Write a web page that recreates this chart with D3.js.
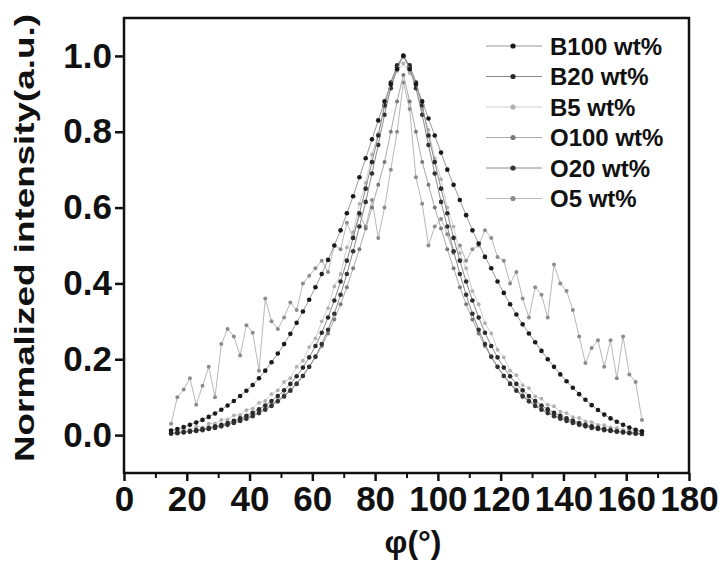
<!DOCTYPE html>
<html><head><meta charset="utf-8">
<script src="https://cdn.jsdelivr.net/npm/d3@7"></script>
<style>
body{margin:0;background:#fff;}
svg text{font-family:"Liberation Sans",Arial,sans-serif;font-weight:bold;fill:#111;}
</style></head>
<body><svg id="c" width="725" height="577"></svg>
<script>
// angle grid (degrees)
const phi = d3.range(15, 166, 2);
const seriesNames = ["B100 wt%","B20 wt%","B5 wt%","O100 wt%","O20 wt%","O5 wt%"];
const B100 = [0.012,0.016,0.021,0.027,0.033,0.040,0.048,0.057,0.067,0.078,0.090,0.103,0.117,0.132,0.150,0.170,0.192,0.215,0.240,0.267,0.296,0.326,0.357,0.390,0.425,0.462,0.50,0.54,0.585,0.63,0.68,0.73,0.78,0.83,0.88,0.925,0.965,
 1.00,
 0.965,0.925,0.88,0.835,0.79,0.745,0.70,0.66,0.62,0.58,0.54,0.505,0.47,0.44,0.405,0.375,0.345,0.318,0.292,0.268,0.245,0.222,0.200,0.180,0.160,0.142,0.125,0.108,0.093,0.079,0.066,0.054,0.044,0.035,0.027,0.020,0.014,0.010];
const B20 = [0.004,0.006,0.008,0.010,0.013,0.016,0.019,0.023,0.027,0.032,0.038,0.044,0.051,0.059,0.068,0.078,0.090,0.103,0.118,0.135,0.155,0.178,0.205,0.235,0.27,0.31,0.355,0.405,0.46,0.52,0.585,0.65,0.72,0.79,0.87,0.93,0.975,
 1.0,
 0.975,0.93,0.87,0.79,0.72,0.65,0.585,0.52,0.46,0.405,0.355,0.31,0.27,0.235,0.205,0.178,0.155,0.135,0.118,0.103,0.090,0.078,0.068,0.059,0.051,0.044,0.038,0.032,0.027,0.023,0.019,0.016,0.013,0.010,0.008,0.006,0.004,0.003];
const B5 = [0.012,0.010,0.016,0.015,0.022,0.020,0.030,0.031,0.040,0.041,0.052,0.053,0.066,0.070,0.085,0.090,0.108,0.118,0.140,0.150,0.180,0.196,0.232,0.255,0.300,0.335,0.392,0.425,0.495,0.535,0.610,0.665,0.740,0.795,0.865,0.915,0.960,
 0.98,
 0.955,0.925,0.860,0.805,0.730,0.675,0.600,0.550,0.480,0.440,0.380,0.345,0.295,0.268,0.225,0.205,0.170,0.158,0.132,0.124,0.102,0.096,0.080,0.076,0.062,0.058,0.047,0.045,0.036,0.034,0.027,0.026,0.020,0.019,0.014,0.013,0.010,0.009];
const O100 = [0.006,0.007,0.009,0.011,0.013,0.016,0.019,0.022,0.026,0.030,0.035,0.040,0.046,0.053,0.061,0.070,0.080,0.092,0.105,0.120,0.137,0.157,0.180,0.205,0.235,0.268,0.305,0.345,0.39,0.44,0.49,0.545,0.60,0.66,0.72,0.80,0.88,
 0.95,
 0.88,0.80,0.72,0.66,0.60,0.545,0.49,0.44,0.39,0.345,0.305,0.268,0.235,0.205,0.180,0.157,0.137,0.120,0.105,0.092,0.080,0.070,0.061,0.053,0.046,0.040,0.035,0.030,0.026,0.022,0.019,0.016,0.013,0.011,0.009,0.007,0.006,0.005];
const O20 = [0.004,0.005,0.007,0.009,0.011,0.013,0.016,0.019,0.023,0.027,0.032,0.037,0.043,0.050,0.058,0.067,0.077,0.089,0.102,0.117,0.135,0.156,0.180,0.207,0.240,0.278,0.320,0.370,0.425,0.485,0.550,0.615,0.690,0.765,0.845,0.915,0.970,
 1.0,
 0.970,0.915,0.845,0.765,0.690,0.615,0.550,0.485,0.425,0.370,0.320,0.278,0.240,0.207,0.180,0.156,0.135,0.117,0.102,0.089,0.077,0.067,0.058,0.050,0.043,0.037,0.032,0.027,0.023,0.019,0.016,0.013,0.011,0.009,0.007,0.005,0.004,0.003];
const O5 = [0.03,0.10,0.12,0.15,0.08,0.13,0.18,0.10,0.24,0.28,0.26,0.21,0.29,0.27,0.17,0.36,0.30,0.28,0.31,0.35,0.33,0.40,0.42,0.44,0.46,0.43,0.50,0.49,0.56,0.52,0.58,0.55,0.62,0.52,0.60,0.70,0.80,
 0.93,
 0.86,0.68,0.61,0.50,0.55,0.57,0.53,0.48,0.50,0.46,0.49,0.50,0.54,0.52,0.47,0.46,0.40,0.43,0.36,0.31,0.39,0.37,0.31,0.45,0.40,0.38,0.33,0.26,0.19,0.23,0.25,0.18,0.25,0.15,0.26,0.16,0.14,0.04];
const xTicks = [0,20,40,60,80,100,120,140,160,180];
const yTicks = [0.0,0.2,0.4,0.6,0.8,1.0];

const svg = d3.select("#c");
const x = d3.scaleLinear().domain([0,180]).range([124,689]);
const y = d3.scaleLinear().domain([-0.1,1.1]).range([473,18]);

const styles = {
  "B100 wt%": {dot:"#1a1a1a", line:"#9a9a9a", r:2.3},
  "B20 wt%":  {dot:"#2a2a2a", line:"#8a8a8a", r:2.3},
  "B5 wt%":   {dot:"#b0b0b0", line:"#cfcfcf", r:1.9},
  "O100 wt%": {dot:"#7a7a7a", line:"#aaaaaa", r:2.0},
  "O20 wt%":  {dot:"#333333", line:"#888888", r:2.3},
  "O5 wt%":   {dot:"#8c8c8c", line:"#b8b8b8", r:2.0}
};
const dataMap = {"B100 wt%":B100,"B20 wt%":B20,"B5 wt%":B5,"O100 wt%":O100,"O20 wt%":O20,"O5 wt%":O5};
const drawOrder = ["O5 wt%","B5 wt%","O100 wt%","O20 wt%","B20 wt%","B100 wt%"];

const line = d3.line().x(d=>x(d[0])).y(d=>y(d[1]));
drawOrder.forEach(name=>{
  const pts = phi.map((p,i)=>[p, dataMap[name][i]]);
  const st = styles[name];
  const g = svg.append("g");
  g.append("path").datum(pts).attr("d",line).attr("fill","none")
    .attr("stroke",st.line).attr("stroke-width",1);
  g.selectAll("circle").data(pts).join("circle")
    .attr("cx",d=>x(d[0])).attr("cy",d=>y(d[1])).attr("r",st.r).attr("fill",st.dot);
});

// frame
svg.append("rect").attr("x",124).attr("y",18).attr("width",565).attr("height",455)
  .attr("fill","none").attr("stroke","#111").attr("stroke-width",2.5);

// x axis
const xAxis = d3.axisBottom(x).tickValues(xTicks).tickSize(8).tickPadding(5).tickFormat(d3.format("d"));
const gx = svg.append("g").attr("transform","translate(0,473)").call(xAxis);
gx.select(".domain").remove();
gx.selectAll("line").attr("stroke","#111").attr("stroke-width",2.5);
gx.selectAll("text").style("font-size","35px").attr("fill","#111");
const xMinor = d3.axisBottom(x).tickValues(d3.range(10,180,20)).tickSize(5).tickFormat("");
const gxm = svg.append("g").attr("transform","translate(0,473)").call(xMinor);
gxm.select(".domain").remove();
gxm.selectAll("line").attr("stroke","#111").attr("stroke-width",2);

// y axis
const yAxis = d3.axisLeft(y).tickValues(yTicks).tickSize(9).tickPadding(3).tickFormat(d3.format(".1f"));
const gy = svg.append("g").attr("transform","translate(124,0)").call(yAxis);
gy.select(".domain").remove();
gy.selectAll("line").attr("stroke","#111").attr("stroke-width",2.5);
gy.selectAll("text").style("font-size","35px").attr("fill","#111");

// titles
svg.append("text").attr("transform","translate(34,238) rotate(-90)")
  .attr("text-anchor","middle").style("font-size","28px")
  .attr("textLength",448).attr("lengthAdjust","spacingAndGlyphs")
  .text("Normalized intensity(a.u.)");
svg.append("text").attr("x",413).attr("y",553).attr("text-anchor","middle")
  .style("font-size","32px").text("φ(°)");

// legend
const leg = svg.append("g");
seriesNames.forEach((name,i)=>{
  const cy = 46 + i*30.5;
  const st = styles[name];
  leg.append("line").attr("x1",486).attr("x2",542).attr("y1",cy).attr("y2",cy)
    .attr("stroke",st.line).attr("stroke-width",1);
  leg.append("circle").attr("cx",513).attr("cy",cy).attr("r",2.6).attr("fill",st.dot);
  leg.append("text").attr("x",550).attr("y",cy).attr("dy","0.36em")
    .style("font-size","24px").text(name);
});
</script></body></html>
